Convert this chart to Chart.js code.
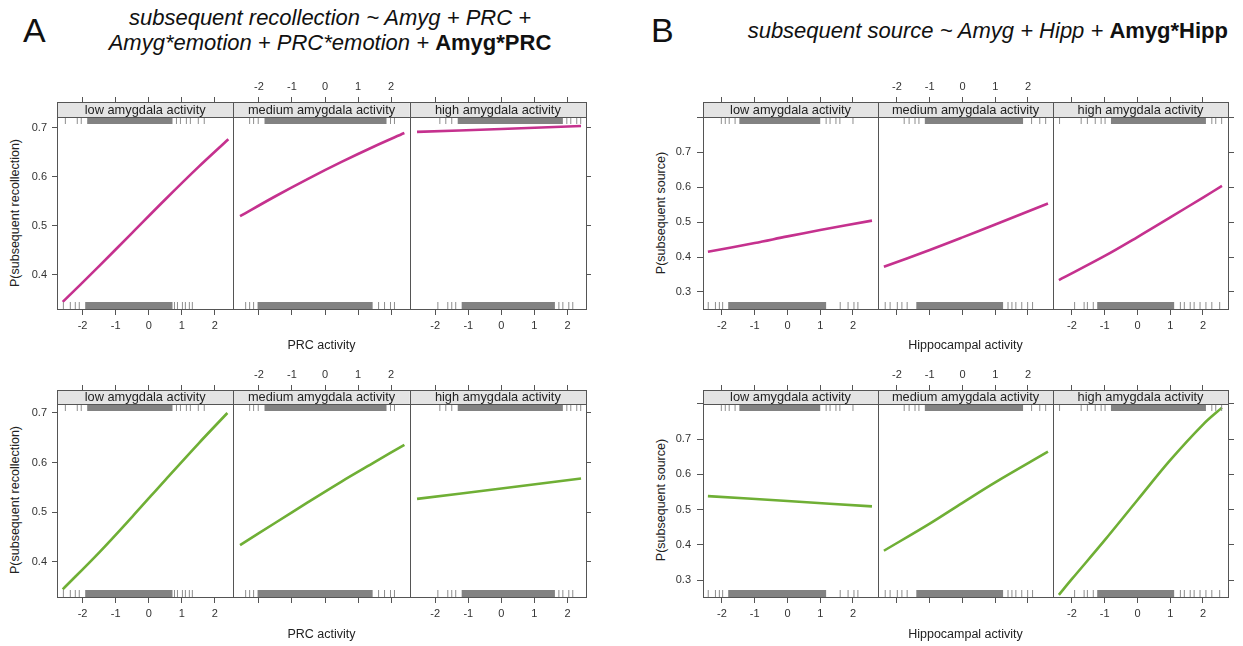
<!DOCTYPE html>
<html><head><meta charset="utf-8">
<script src="https://cdn.jsdelivr.net/npm/chart.js@4.4.1/dist/chart.umd.min.js"></script>
<style>
html,body{margin:0;padding:0;background:#fff;}
body{width:1243px;height:646px;position:relative;overflow:hidden;font-family:'Liberation Sans',Arial,Helvetica,sans-serif;color:#111;}
canvas{position:absolute;}
.lab{position:absolute;white-space:nowrap;}
.letter{font-size:34px;line-height:34px;top:13px;color:#111;}
.ttl{font-size:22px;font-style:italic;line-height:25px;text-align:center;color:#111;}
.ttl b{font-style:normal;font-weight:bold;}
.ylab{font-size:12.5px;color:#222;transform:translate(-50%,-50%) rotate(-90deg);}
</style></head><body>
<div class="lab letter" style="left:23px;">A</div>
<div class="lab letter" style="left:651px;">B</div>
<div class="lab ttl" style="left:80px;width:500px;top:4.5px;">subsequent recollection ~ Amyg + PRC +<br>Amyg*emotion + PRC*emotion + <b>Amyg*PRC</b></div>
<div class="lab ttl" style="right:15px;top:17.5px;text-align:right;">subsequent source ~ Amyg + Hipp + <b>Amyg*Hipp</b></div>
<div class="lab ylab" style="left:15px;top:213px;">P(subsequent recollection)</div>
<div class="lab ylab" style="left:15px;top:500px;">P(subsequent recollection)</div>
<div class="lab ylab" style="left:661px;top:213px;">P(subsequent source)</div>
<div class="lab ylab" style="left:661px;top:500px;">P(subsequent source)</div>
<canvas id="cAT" width="620" height="300" style="left:0px;top:60px"></canvas>
<canvas id="cAB" width="620" height="301" style="left:0px;top:345px"></canvas>
<canvas id="cBT" width="623" height="300" style="left:620px;top:60px"></canvas>
<canvas id="cBB" width="623" height="301" style="left:620px;top:345px"></canvas>
<script>
Chart.defaults.font.family = "'Liberation Sans', Arial, Helvetica, sans-serif";
Chart.defaults.color = '#333';

// ---------- categories / ticks ----------
const panelNames = ["low amygdala activity", "medium amygdala activity", "high amygdala activity"];
const xTickVals = [-2, -1, 0, 1, 2];
const yTicksRecollection = [0.4, 0.5, 0.6, 0.7];
const yTicksSource = [0.3, 0.4, 0.5, 0.6, 0.7, 0.8];

// ---------- A: P(subsequent recollection) vs PRC activity ----------
const recTopLowX  = [-2.6, -1.5, -0.5, 0.5, 1.5, 2.41];
const recTopLowY  = [0.345, 0.418, 0.486, 0.554, 0.620, 0.677];
const recTopMedX  = [-2.57, -1.5, -0.5, 0.5, 1.5, 2.4];
const recTopMedY  = [0.52, 0.5607, 0.5967, 0.6307, 0.6627, 0.6897];
const recTopHighX = [-2.55, 0, 2.41];
const recTopHighY = [0.692, 0.698, 0.704];

const recBotLowX  = [-2.6, -1.5, -0.5, 0.5, 1.5, 2.38];
const recBotLowY  = [0.345, 0.419, 0.491, 0.565, 0.638, 0.70];
const recBotMedX  = [-2.57, -1.5, -0.5, 0.5, 1.5, 2.4];
const recBotMedY  = [0.434, 0.479, 0.521, 0.562, 0.601, 0.636];
const recBotHighX = [-2.55, 0, 2.41];
const recBotHighY = [0.527, 0.548, 0.568];

// ---------- B: P(subsequent source) vs Hippocampal activity ----------
const srcTopLowX  = [-2.43, -1, 0, 1, 2.58];
const srcTopLowY  = [0.415, 0.440, 0.459, 0.477, 0.504];
const srcTopMedX  = [-2.4, -1, 0, 1, 2.61];
const srcTopMedY  = [0.372, 0.420, 0.456, 0.493, 0.553];
const srcTopHighX = [-2.4, -1, 0, 1, 2, 2.58];
const srcTopHighY = [0.334, 0.403, 0.457, 0.513, 0.570, 0.603];

const srcBotLowX  = [-2.43, 0, 2.58];
const srcBotLowY  = [0.538, 0.524, 0.509];
const srcBotMedX  = [-2.4, -1, 0, 1, 2.61];
const srcBotMedY  = [0.383, 0.460, 0.519, 0.577, 0.664];
const srcBotHighX = [-2.4, -2, -1, 0, 1, 2, 2.58];
const srcBotHighY = [0.258, 0.303, 0.413, 0.527, 0.640, 0.741, 0.789];

// ---------- rug marks (observed activity values), per panel ----------
const prcRugTopDense = [[-1.86, 0.72], [-1.83, 1.86], [-1.32, 1.86]];
const prcRugTopTicks = [[-2.52, -2.16, -2.04, 0.84, 0.96, 1.14, 1.26, 1.5, 1.68],
                        [-2.28, -2.16, -2.02, 1.98, 2.1],
                        [-1.86, -1.68, -1.5, 1.98, 2.1, 2.28, 2.4]];
const prcRugBotDense = [[-1.92, 0.72], [-2.04, 1.44], [-1.2, 1.62]];
const prcRugBotTicks = [[-2.58, -2.37, -2.22, -2.1, 0.78, 0.87, 1.02, 1.11, 1.23, 1.32],
                        [-2.4, -2.28, -2.16, 1.62, 1.8, 1.98, 2.1],
                        [-1.92, -1.62, -1.5, -1.38, 1.74, 1.86, 2.04, 2.16]];
const hipRugTopDense = [[-1.47, 1.0], [-1.15, 1.85], [-0.81, 2.09]];
const hipRugTopTicks = [[-2.02, -1.9, -1.78, -1.6, 1.18, 1.3, 1.48, 1.6, 2.0],
                        [-1.78, -1.63, -1.45, -1.33, 2.11, 2.36, 2.54],
                        [-2.38, -1.72, -1.53, -1.29, -1.11, -0.99, 2.27, 2.39, 2.57]];
const hipRugBotDense = [[-1.81, 1.18], [-1.41, 1.24], [-1.23, 1.12]];
const hipRugBotTicks = [[-2.42, -2.2, -2.08, -1.98, 1.61, 1.85, 2.03, 2.15],
                        [-2.36, -2.21, -1.99, -1.85, -1.69, 1.39, 1.51, 1.63, 1.81, 1.99, 2.14],
                        [-1.92, -1.63, -1.53, -1.35, 1.31, 1.43, 1.61, 1.73, 1.91, 2.09, 2.27, 2.51]];

const PINK = '#C5318E';
const GREEN = '#6FAF35';
const FRAME = '#555';

const prcRug = {topDense: prcRugTopDense, topTicks: prcRugTopTicks, botDense: prcRugBotDense, botTicks: prcRugBotTicks};
const hipRug = {topDense: hipRugTopDense, topTicks: hipRugTopTicks, botDense: hipRugBotDense, botTicks: hipRugBotTicks};

const groups = [
  {id:'cAT', xMin:-2.773, xMax:2.56, yMin:0.3306, yMax:0.753, yTicks:yTicksRecollection, strip:15,
   leftW:57, rightW:34, topH:42, botH:51, tl:5, yPad:5, titlePad:6.5, xTitle:'PRC activity', color:PINK, rug:prcRug,
   curves:[[recTopLowX,recTopLowY],[recTopMedX,recTopMedY],[recTopHighX,recTopHighY]]},
  {id:'cAB', xMin:-2.773, xMax:2.56, yMin:0.3295, yMax:0.7463, yTicks:yTicksRecollection, strip:14,
   leftW:57, rightW:34, topH:45, botH:49, tl:5, yPad:5, titlePad:3.5, xTitle:'PRC activity', color:GREEN, rug:prcRug,
   curves:[[recBotLowX,recBotLowY],[recBotMedX,recBotMedY],[recBotHighX,recBotHighY]]},
  {id:'cBT', xMin:-2.58, xMax:2.764, yMin:0.2514, yMax:0.843, yTicks:yTicksSource, strip:15,
   leftW:83, rightW:15, topH:42, botH:51, tl:6, yPad:6, titlePad:6.5, xTitle:'Hippocampal activity', color:PINK, rug:hipRug,
   curves:[[srcTopLowX,srcTopLowY],[srcTopMedX,srcTopMedY],[srcTopHighX,srcTopHighY]]},
  {id:'cBB', xMin:-2.58, xMax:2.764, yMin:0.2518, yMax:0.839, yTicks:yTicksSource, strip:14,
   leftW:83, rightW:15, topH:45, botH:49, tl:6, yPad:6, titlePad:3.5, xTitle:'Hippocampal activity', color:GREEN, rug:hipRug,
   curves:[[srcBotLowX,srcBotLowY],[srcBotMedX,srcBotMedY],[srcBotHighX,srcBotHighY]]}
];

function build(g) {
  const span = g.xMax - g.xMin;
  const P = (i, v) => i * span + (v - g.xMin);
  const canvas = document.getElementById(g.id);
  const H = canvas.height - g.topH - g.botH;
  const rugTopY = H - g.strip - 3.5, rugBotY = 3.5;
  const datasets = [];
  // rugs
  for (let i = 0; i < 3; i++) {
    [[g.rug.topDense[i], g.rug.topTicks[i], rugTopY], [g.rug.botDense[i], g.rug.botTicks[i], rugBotY]].forEach(([d, t, yy]) => {
      datasets.push({data:[{x:P(i,d[0]), y:yy}, {x:P(i,d[1]), y:yy}], yAxisID:'y_rug', showLine:true,
        borderColor:'#828282', borderWidth:7, borderCapStyle:'butt', pointRadius:0});
      datasets.push({data:t.map(v => ({x:P(i,v), y:yy})), yAxisID:'y_rug', showLine:false,
        pointStyle:'line', rotation:90, pointRadius:3.5, borderColor:'#8e8e8e', borderWidth:1});
    });
  }
  // fitted curves
  g.curves.forEach((c, i) => {
    datasets.push({data:c[0].map((x, k) => ({x:P(i,x), y:c[1][k]})), yAxisID:'y', showLine:true,
      borderColor:g.color, borderWidth:2.6, pointRadius:0, tension:0.35, borderCapStyle:'butt'});
  });
  const tickPos = [];
  for (let i = 0; i < 3; i++) xTickVals.forEach(v => tickPos.push(P(i, v)));
  const labelFor = (v, panels) => {
    const i = Math.min(2, Math.max(0, Math.floor((v + 1e-9) / span)));
    const local = Math.round(v - i * span + g.xMin);
    return panels.includes(i) ? String(local) : '';
  };
  const fixPad = s => { s.paddingLeft = 0; s.paddingRight = 0; s.paddingTop = 0; s.paddingBottom = 0; };
  const grid = {drawOnChartArea:false, drawTicks:true, tickLength:5, color:FRAME, lineWidth:1};
  const lattice = {
    id:'lattice_' + g.id,
    beforeDatasetsDraw(chart) {
      const {ctx, chartArea:a, scales:{x}} = chart;
      ctx.save();
      for (let i = 0; i < 3; i++) {
        const x0 = x.getPixelForValue(i * span), x1 = x.getPixelForValue((i + 1) * span);
        ctx.fillStyle = '#e4e4e4';
        ctx.fillRect(x0, a.top, x1 - x0, g.strip);
        ctx.fillStyle = '#222';
        ctx.font = "12.8px 'Liberation Sans', Arial, sans-serif";
        ctx.textAlign = 'center'; ctx.textBaseline = 'middle';
        ctx.fillText(panelNames[i], (x0 + x1) / 2, a.top + g.strip / 2 + 0.5);
      }
      ctx.restore();
    },
    afterDatasetsDraw(chart) {
      const {ctx, chartArea:a, scales:{x}} = chart;
      const r = v => Math.round(v) + 0.5;
      ctx.save();
      ctx.strokeStyle = FRAME; ctx.lineWidth = 1;
      ctx.strokeRect(r(a.left), r(a.top), Math.round(a.right) - Math.round(a.left), Math.round(a.bottom) - Math.round(a.top));
      ctx.beginPath();
      for (let i = 1; i < 3; i++) {
        const xx = r(x.getPixelForValue(i * span));
        ctx.moveTo(xx, a.top); ctx.lineTo(xx, a.bottom);
      }
      ctx.moveTo(a.left, r(a.top + g.strip)); ctx.lineTo(a.right, r(a.top + g.strip));
      ctx.stroke();
      ctx.restore();
    }
  };
  new Chart(canvas, {
    type:'scatter',
    data:{datasets},
    options:{
      responsive:false, animation:false, events:[],
      layout:{padding:0},
      plugins:{legend:{display:false}, tooltip:{enabled:false}},
      scales:{
        x:{type:'linear', position:'bottom', min:0, max:3 * span, bounds:'data',
           afterBuildTicks:s => { s.ticks = tickPos.map(v => ({value:v})); },
           afterFit:s => { s.height = g.botH; fixPad(s); },
           ticks:{autoSkip:false, maxRotation:0, minRotation:0, padding:4, font:{size:11}, color:'#333',
                  callback:v => labelFor(v, [0, 2])},
           grid:Object.assign({}, grid, {tickLength:6}), border:{display:false},
           title:{display:true, text:g.xTitle, color:'#222', font:{size:12.5}, padding:{top:0, bottom:g.titlePad}}},
        x2:{type:'linear', position:'top', min:0, max:3 * span, bounds:'data',
           afterBuildTicks:s => { s.ticks = tickPos.map(v => ({value:v})); },
           afterFit:s => { s.height = g.topH; fixPad(s); },
           ticks:{autoSkip:false, maxRotation:0, minRotation:0, padding:3.5, font:{size:11}, color:'#333',
                  callback:v => labelFor(v, [1])},
           grid:grid, border:{display:false}},
        y:{type:'linear', position:'left', min:g.yMin, max:g.yMax, bounds:'data',
           afterBuildTicks:s => { s.ticks = g.yTicks.map(v => ({value:v})); },
           afterFit:s => { s.width = g.leftW; fixPad(s); },
           ticks:{autoSkip:false, padding:g.yPad, font:{size:11}, color:'#333',
                  callback:v => (v > 0.75 ? '' : v.toFixed(1))},
           grid:Object.assign({}, grid, {tickLength:g.tl}), border:{display:false}},
        y2:{type:'linear', position:'right', min:g.yMin, max:g.yMax, bounds:'data',
           afterBuildTicks:s => { s.ticks = g.yTicks.map(v => ({value:v})); },
           afterFit:s => { s.width = g.rightW; fixPad(s); },
           ticks:{autoSkip:false, callback:() => ''},
           grid:Object.assign({}, grid, {tickLength:g.tl}), border:{display:false}},
        y_rug:{type:'linear', display:false, min:0, max:H}
      }
    },
    plugins:[lattice]
  });
}
groups.forEach(build);
</script>
</body></html>
